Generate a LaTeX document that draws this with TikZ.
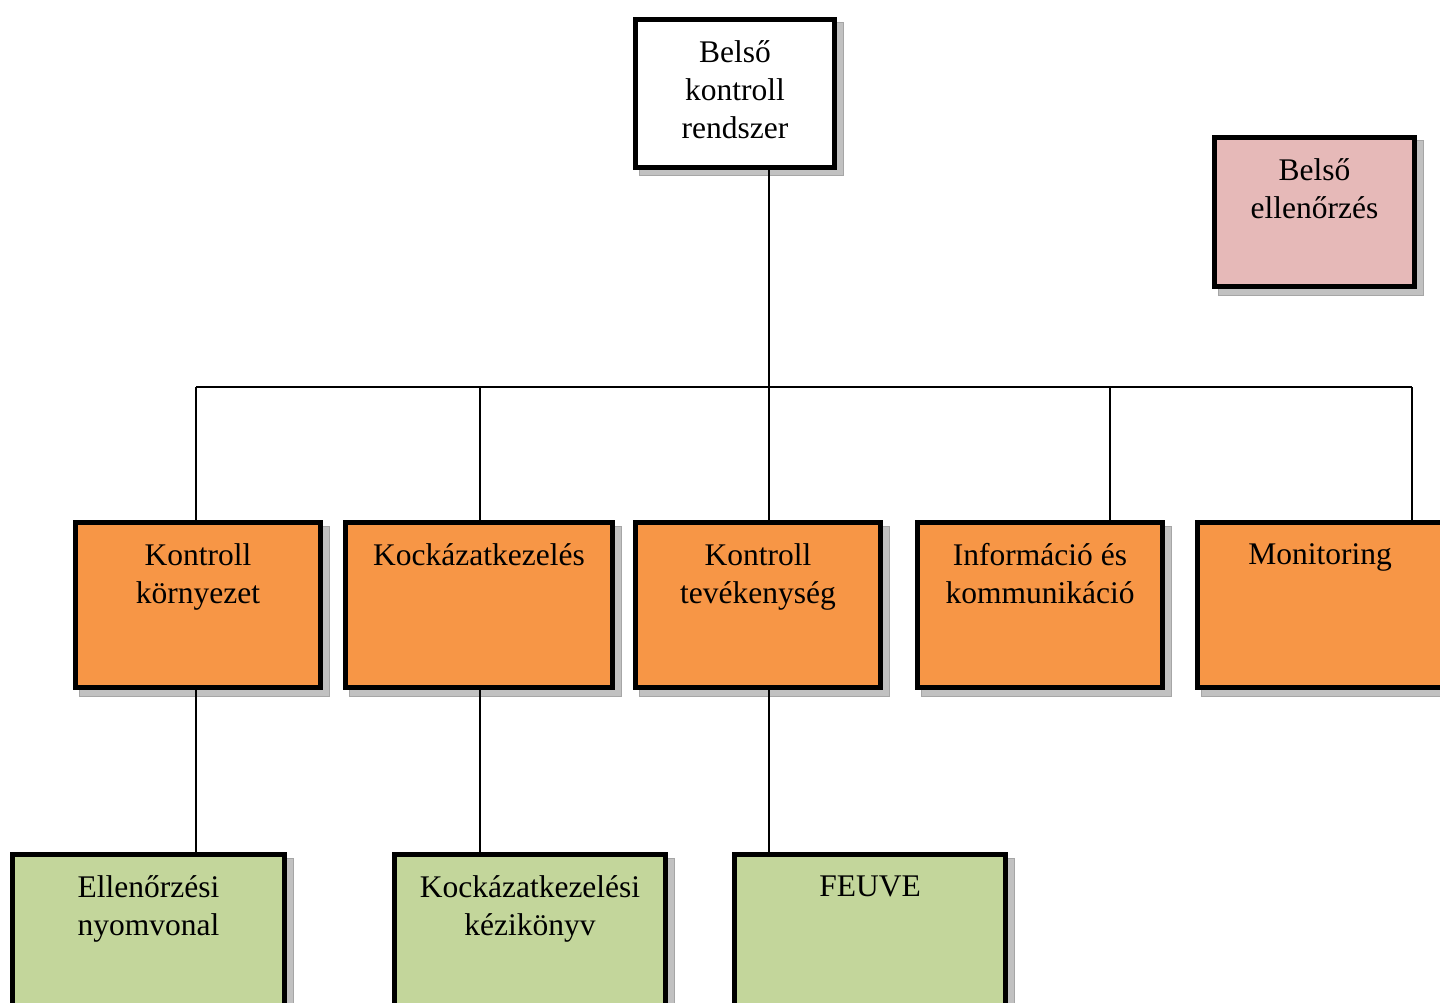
\documentclass[tikz,border=0pt]{standalone}
\usepackage{fontspec}
\setmainfont{Liberation Serif}
\definecolor{orangebox}{HTML}{F79646}
\definecolor{greenbox}{HTML}{C3D69B}
\definecolor{pinkbox}{HTML}{E6B9B8}
\definecolor{shadowgray}{HTML}{A6A6A6}
\begin{document}
\begin{tikzpicture}[x=1pt,y=-1pt,
  box/.style={draw=black, line width=5pt, rectangle, inner sep=0pt},
  shadowbox/.style={fill=shadowgray!70, draw=shadowgray, line width=1pt},
  lbl/.style={anchor=north, align=center, inner sep=0pt, font=\fontsize{31.5}{38}\selectfont},
  conn/.style={draw=black, line width=1.4pt}
]
\useasboundingbox (0,0) rectangle (1440,1003);
% shadows
\foreach \xa/\ya/\xb/\yb in {633/17/837/170, 1212/135/1417/289,
  73/520/323/690, 343/520/615/690, 633/520/883/690, 915/520/1165/690, 1195/520/1445/690,
  10/852/287/1022, 392/852/668/1022, 732/852/1008/1022}
  \path[shadowbox] (\xa+6,\ya+6) rectangle (\xb+6,\yb+6);
% boxes
\node[box, fill=white, minimum width=199pt, minimum height=148pt] (top) at (735,93.5) {};
\node[box, fill=pinkbox, minimum width=200pt, minimum height=149pt] (pink) at (1314.5,212) {};
\node[box, fill=orangebox, minimum width=245pt, minimum height=165pt] (K1) at (198,605) {};
\node[box, fill=orangebox, minimum width=267pt, minimum height=165pt] (K2) at (479,605) {};
\node[box, fill=orangebox, minimum width=245pt, minimum height=165pt] (K3) at (758,605) {};
\node[box, fill=orangebox, minimum width=245pt, minimum height=165pt] (K4) at (1040,605) {};
\node[box, fill=orangebox, minimum width=245pt, minimum height=165pt] (K5) at (1320,605) {};
\node[box, fill=greenbox, minimum width=272pt, minimum height=165pt] (G1) at (148.5,937) {};
\node[box, fill=greenbox, minimum width=271pt, minimum height=165pt] (G2) at (530,937) {};
\node[box, fill=greenbox, minimum width=271pt, minimum height=165pt] (G3) at (870,937) {};
% labels
\node[lbl] (ttop) at ([yshift=-23pt]top.north) {Belső\\kontroll\\rendszer};
\node[lbl] (tpink) at ([yshift=-23pt]pink.north) {Belső\\ellenőrzés};
\node[lbl] (tK1) at ([yshift=-23pt]K1.north) {Kontroll\\környezet};
\node[lbl] (tK2) at ([yshift=-23pt]K2.north) {Kockázatkezelés};
\node[lbl] (tK3) at ([yshift=-23pt]K3.north) {Kontroll\\tevékenység};
\node[lbl] (tK4) at ([yshift=-23pt]K4.north) {Információ és\\kommunikáció};
\node[lbl] (tK5) at ([yshift=-23pt]K5.north) {Monitoring};
\node[lbl] (tG1) at ([yshift=-23pt]G1.north) {Ellenőrzési\\nyomvonal};
\node[lbl] (tG2) at ([yshift=-23pt]G2.north) {Kockázatkezelési\\kézikönyv};
\node[lbl] (tG3) at ([yshift=-24pt]G3.north) {FEUVE};
% connector coordinates
\coordinate (bar) at (769,387);
\coordinate (d1) at (196,387);
\coordinate (d2) at (480,387);
\coordinate (d4) at (1110,387);
\coordinate (d5) at (1412,387);
% connectors
\draw[conn] (top.south -| bar) -- (bar);
\draw[conn] (d1) -- (d5);
\draw[conn] (d1) -- (K1.north -| d1);
\draw[conn] (d2) -- (K2.north -| d2);
\draw[conn] (bar) -- (K3.north -| bar);
\draw[conn] (d4) -- (K4.north -| d4);
\draw[conn] (d5) -- (K5.north -| d5);
\draw[conn] (K1.south -| d1) -- (G1.north -| d1);
\draw[conn] (K2.south -| d2) -- (G2.north -| d2);
\draw[conn] (K3.south -| bar) -- (G3.north -| bar);
\end{tikzpicture}
\end{document}
